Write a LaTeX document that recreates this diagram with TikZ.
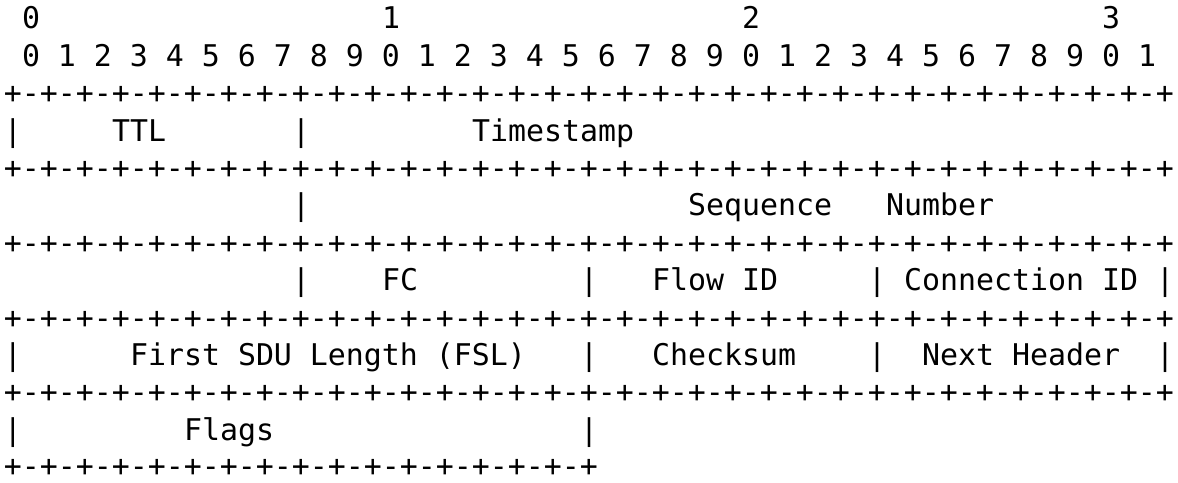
\documentclass[tikz,border=0pt]{standalone}
\usepackage{fontspec}
\newfontfamily\dmono{DejaVu Sans Mono}
\begin{document}
\begin{tikzpicture}[x=1pt,y=1pt,
  txt/.style={anchor=base west,inner sep=0pt,outer sep=0pt,
    font=\dmono\fontsize{29.9pt}{36pt}\selectfont}]
\useasboundingbox (0,0) rectangle (1178,482);
% column c -> x = 4 + 18 c ; line k -> baseline y = 453 - (k-1)*37.4
\def\rule{+-+-+-+-+-+-+-+-+-+-+-+-+-+-+-+-+-+-+-+-+-+-+-+-+-+-+-+-+-+-+-+-+}
% line 1
\node[txt] (n0) at ({4+18*1},453.0) {0};
\node[txt] (n1) at ({4+18*21},453.0) {1};
\node[txt] (n2) at ({4+18*41},453.0) {2};
\node[txt] (n3) at ({4+18*61},453.0) {3};
% line 2
\node[txt] (bits) at ({4+18*1},415.6) {0 1 2 3 4 5 6 7 8 9 0 1 2 3 4 5 6 7 8 9 0 1 2 3 4 5 6 7 8 9 0 1};
% separator lines
\foreach \yy/\nm in {378.2/sepA,303.4/sepB,228.6/sepC,153.8/sepD,79.0/sepE}
  \node[txt] (\nm) at (4,\yy) {\rule};
\node[txt,text depth=0pt] (sepF) at (4,5.2) {+-+-+-+-+-+-+-+-+-+-+-+-+-+-+-+-+};
% line 4
\node[txt] (b4a) at ({4+18*0},340.8) {|};
\node[txt] (ttl) at ({4+18*6},340.8) {TTL};
\node[txt] (b4b) at ({4+18*16},340.8) {|};
\node[txt] (ts) at ({4+18*26},340.8) {Timestamp};
% line 6
\node[txt] (b6a) at ({4+18*16},266.0) {|};
\node[txt] (seq) at ({4+18*38},266.0) {Sequence};
\node[txt] (num) at ({4+18*49},266.0) {Number};
% line 8
\node[txt] (b8a) at ({4+18*16},191.2) {|};
\node[txt] (fc) at ({4+18*21},191.2) {FC};
\node[txt] (b8b) at ({4+18*32},191.2) {|};
\node[txt] (flow) at ({4+18*36},191.2) {Flow ID};
\node[txt] (b8c) at ({4+18*48},191.2) {|};
\node[txt] (conn) at ({4+18*50},191.2) {Connection ID};
\node[txt] (b8d) at ({4+18*64},191.2) {|};
% line 10
\node[txt] (b10a) at ({4+18*0},116.4) {|};
\node[txt] (fsl) at ({4+18*7},116.4) {First SDU Length (FSL)};
\node[txt] (b10b) at ({4+18*32},116.4) {|};
\node[txt] (chk) at ({4+18*36},116.4) {Checksum};
\node[txt] (b10c) at ({4+18*48},116.4) {|};
\node[txt] (nh) at ({4+18*51},116.4) {Next Header};
\node[txt] (b10d) at ({4+18*64},116.4) {|};
% line 12
\node[txt] (b12a) at ({4+18*0},41.6) {|};
\node[txt] (flags) at ({4+18*10},41.6) {Flags};
\node[txt] (b12b) at ({4+18*32},41.6) {|};
\end{tikzpicture}
\end{document}
